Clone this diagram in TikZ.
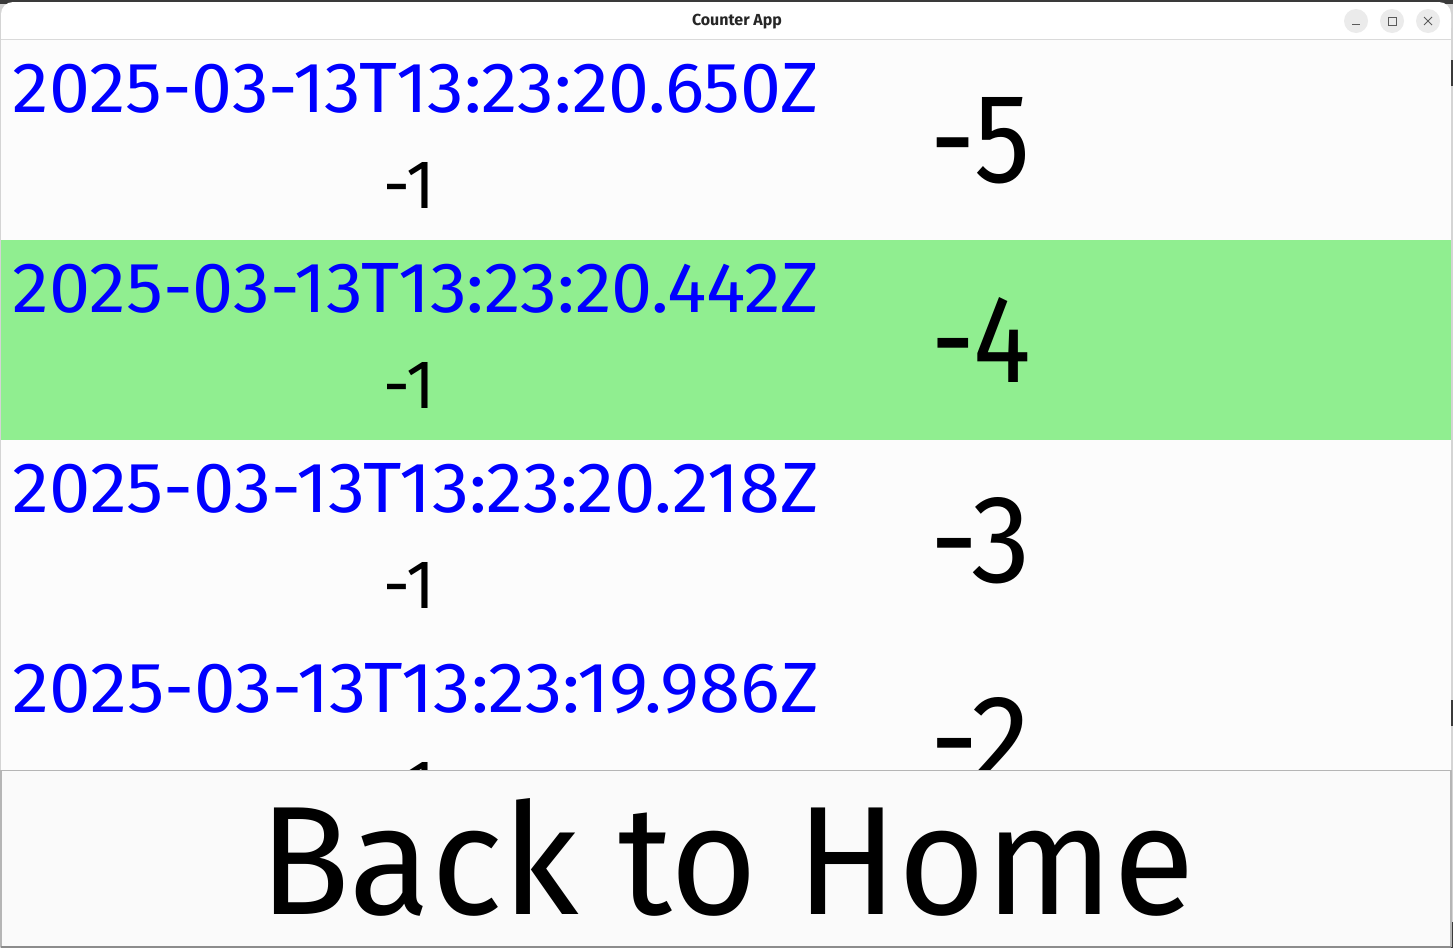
\documentclass[tikz,border=0pt]{standalone}
\usepackage{fontspec}
\setmainfont{Fira Sans}
\usepackage{graphicx}
\definecolor{tsblue}{HTML}{0000FF}
\definecolor{rowgreen}{HTML}{90EE90}
\definecolor{contentbg}{HTML}{FCFCFC}
\definecolor{titlebg}{HTML}{FFFFFF}
\definecolor{titleline}{HTML}{DADADA}
\definecolor{ctrlbg}{HTML}{EBEBEB}
\definecolor{ctrlfg}{HTML}{5A5A5A}
\definecolor{btnbg}{HTML}{FAFAFA}
\definecolor{btnline}{HTML}{B5B5B5}
\definecolor{desk}{HTML}{D4D4D4}
\definecolor{deskdark}{HTML}{3A3A3A}
\tikzset{
  stamp/.style={anchor=base,inner sep=0pt,text=tsblue},
  delta/.style={anchor=base,inner sep=0pt,text=black},
  total/.style={anchor=base,inner sep=0pt,text=black},
  ctrl/.style={circle,fill=ctrlbg,minimum size=24pt,inner sep=0pt},
  ctrlicon/.style={draw=ctrlfg,line width=1pt},
}
\newcommand{\stampbox}[1]{\resizebox{806pt}{49pt}{#1}}
\newcommand{\deltabox}[1]{\resizebox{51pt}{46pt}{#1}}
\newcommand{\totalbox}[1]{\resizebox{100pt}{85pt}{#1}}
\begin{document}
\begin{tikzpicture}[x=1pt,y=-1pt]
\useasboundingbox (0,0) rectangle (1453,948);
% desktop behind the window
\fill[deskdark] (0,0) rectangle (1453,4);
\fill[desk] (0,4) rectangle (1453,948);
\fill[deskdark] (1451,60) rectangle (1453,86);
\fill[deskdark] (1451,700) rectangle (1453,726);
\fill[deskdark] (1451,922) rectangle (1453,948);
% window
\fill[titlebg,rounded corners=12pt] (1,2) -- (1451,2) -- (1451,40) -- (1,40) -- cycle;
\fill[titlebg] (1,20) rectangle (1451,40);
\fill[contentbg] (1,40) rectangle (1451,948);
\draw[titleline,line width=1.2pt] (1,39.5) -- (1451,39.5);
\node[anchor=base,inner sep=0pt,text=black!85] (title) at (737,25.5) {\resizebox{90pt}{!}{\bfseries Counter App}};
\node[ctrl] (minbtn) at (1356,21) {};
\node[ctrl] (maxbtn) at (1392,21) {};
\node[ctrl] (closebtn) at (1428,21) {};
\draw[ctrlicon] ([xshift=-4pt,yshift=-3pt]minbtn.center) -- ([xshift=4pt,yshift=-3pt]minbtn.center);
\draw[ctrlicon] ([xshift=-4pt,yshift=-4pt]maxbtn.center) rectangle ([xshift=4pt,yshift=4pt]maxbtn.center);
\draw[ctrlicon] ([xshift=-4pt,yshift=-4pt]closebtn.center) -- ([xshift=4pt,yshift=4pt]closebtn.center);
\draw[ctrlicon] ([xshift=-4pt,yshift=4pt]closebtn.center) -- ([xshift=4pt,yshift=-4pt]closebtn.center);
% list area, clipped above the button
\begin{scope}
\clip (1,40) rectangle (1451,770);
\fill[rowgreen] (1,240) rectangle (1451,440);
\node[stamp] (s1) at (416,112) {\stampbox{2025-03-13T13:23:20.650Z}};
\node[delta] (d1) at (409.5,208) {\deltabox{-1}};
\node[total] (t1) at (981,182) {\totalbox{-5}};
\node[stamp] (s2) at (416,312) {\stampbox{2025-03-13T13:23:20.442Z}};
\node[delta] (d2) at (409.5,408) {\deltabox{-1}};
\node[total] (t2) at (981,382) {\totalbox{-4}};
\node[stamp] (s3) at (416,512) {\stampbox{2025-03-13T13:23:20.218Z}};
\node[delta] (d3) at (409.5,608) {\deltabox{-1}};
\node[total] (t3) at (981,582) {\totalbox{-3}};
\node[stamp] (s4) at (416,712) {\stampbox{2025-03-13T13:23:19.986Z}};
\node[delta] (d4) at (409.5,808) {\deltabox{-1}};
\node[total] (t4) at (981,782) {\totalbox{-2}};
\end{scope}
% button
\fill[btnbg] (1,770.5) rectangle (1451,946);
\draw[btnline,line width=1.2pt] (1,770.5) -- (1451,770.5) -- (1451,946.5) -- (1,946.5) -- cycle;
\draw[black!45,line width=1.5pt] (1,947) -- (1451,947);
\node[anchor=base,inner sep=0pt] (home) at (727,914) {\resizebox{935pt}{116pt}{Back to Home}};
\end{tikzpicture}
\end{document}
